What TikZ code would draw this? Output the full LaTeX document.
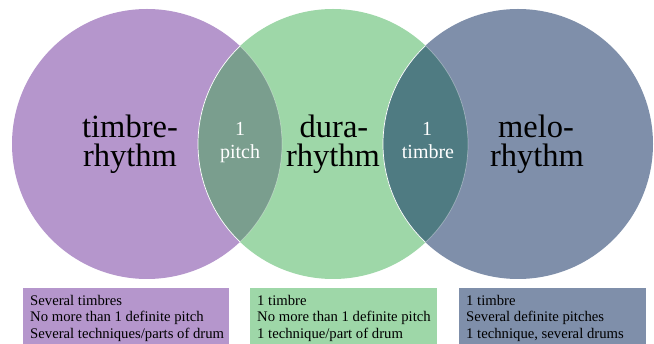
\documentclass[tikz,border=0pt]{standalone}
\usepackage{fontspec}
\setmainfont{Liberation Serif}
\definecolor{purp}{RGB}{181,150,204}
\definecolor{grn}{RGB}{158,215,168}
\definecolor{slate}{RGB}{127,143,170}
\definecolor{lensL}{RGB}{122,158,142}
\definecolor{lensR}{RGB}{79,123,130}
\tikzset{
  big/.style={anchor=base, inner sep=0pt, font=\fontsize{32.5}{34}\selectfont, text=black},
  small/.style={anchor=base, inner sep=0pt, font=\fontsize{20}{22}\selectfont, text=white},
  box/.style={anchor=north west, inner sep=0pt, minimum height=60pt},
  line/.style={anchor=base west, inner sep=0pt, font=\fontsize{14.7}{16}\selectfont, text=black},
  rim/.style={draw=white, line width=0.7pt}
}
\begin{document}
\begin{tikzpicture}[x=1pt,y=-1pt]
\useasboundingbox (0,0) rectangle (654,344);
\coordinate (cL) at (147,144);
\coordinate (cM) at (333,144);
\coordinate (cR) at (518,144);
\fill[purp] (cL) circle[radius=135];
\fill[grn] (cM) circle[radius=135];
\fill[slate] (cR) circle[radius=135];
\begin{scope}
  \clip (cL) circle[radius=135];
  \fill[lensL] (cM) circle[radius=135];
  \draw[rim] (cM) circle[radius=135];
\end{scope}
\begin{scope}
  \clip (cM) circle[radius=135];
  \draw[rim, opacity=0.35] (cL) circle[radius=135];
\end{scope}
\begin{scope}
  \clip (cM) circle[radius=135];
  \fill[lensR] (cR) circle[radius=135];
  \draw[rim] (cR) circle[radius=135];
\end{scope}
\begin{scope}
  \clip (cR) circle[radius=135];
  \draw[rim, opacity=0.35] (cM) circle[radius=135];
\end{scope}
% main labels
\node[big] (t1) at (130,138) {timbre-};
\node[big] (t2) at (130,167) {rhythm};
\node[big] (d1) at (334,138) {dura-};
\node[big] (d2) at (333,167) {rhythm};
\node[big] (m1) at (536,138) {melo-};
\node[big] (m2) at (537,167) {rhythm};
% lens labels
\node[small] (p1) at (240,136) {1};
\node[small] (p2) at (240,159) {pitch};
\node[small] (s1) at (427,136) {1};
\node[small] (s2) at (428,159) {timbre};
% boxes
\node[box, fill=purp, minimum width=206pt] (bL) at (23,288) {};
\node[box, fill=grn, minimum width=187pt] (bM) at (250,288) {};
\node[box, fill=slate, minimum width=187pt] (bR) at (459,288) {};
\node[line] (l1) at (30,305.5) {Several timbres};
\node[line] (l2) at (30,322) {No more than 1 definite pitch};
\node[line] (l3) at (30,339) {Several techniques/parts of drum};
\node[line] (g1) at (257,305.5) {1 timbre};
\node[line] (g2) at (257,322) {No more than 1 definite pitch};
\node[line] (g3) at (257,339) {1 technique/part of drum};
\node[line] (r1) at (466,305.5) {1 timbre};
\node[line] (r2) at (466,322) {Several definite pitches};
\node[line] (r3) at (466,339) {1 technique, several drums};
\end{tikzpicture}
\end{document}
